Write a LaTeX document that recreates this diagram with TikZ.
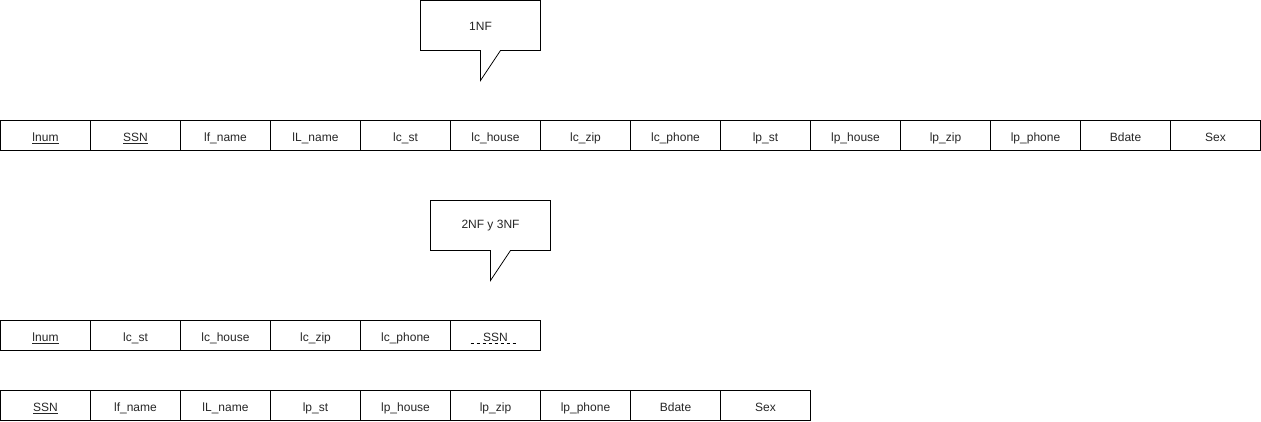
\documentclass[tikz,border=0pt]{standalone}
\usepackage{fontspec}
\setmainfont{Liberation Sans}
\begin{document}
\begin{tikzpicture}[x=1pt,y=-1pt,
  cell/.style={draw,line width=0.8pt,minimum width=90pt,minimum height=30pt,inner sep=0pt,outer sep=0pt,anchor=north west,text height=11.4pt,text depth=0pt,font=\fontsize{12pt}{14pt}\selectfont,text=black!85},
  callout/.style={draw,line width=0.8pt,fill=white},
  lbl/.style={font=\fontsize{12pt}{14pt}\selectfont,text=black!85,inner sep=0pt}]
\useasboundingbox (0,0) rectangle (1261,421);
% row 1
\foreach \t [count=\i from 0] in {\underline{lnum},\underline{SSN},lf\_name,lL\_name,lc\_st,lc\_house,lc\_zip,lc\_phone,lp\_st,lp\_house,lp\_zip,lp\_phone,Bdate,Sex}
  \node[cell] (a\i) at (0.5+90*\i,120.5) {\t};
% row 2
\foreach \t [count=\i from 0] in {\underline{lnum},lc\_st,lc\_house,lc\_zip,lc\_phone,SSN}
  \node[cell] (b\i) at (0.5+90*\i,320.5) {\t};
\draw[line width=0.6pt,dash pattern=on 3pt off 3pt] ([xshift=-25pt,yshift=-8pt]b5.center) coordinate (u1) -- ([xshift=22pt,yshift=-8pt]b5.center) coordinate (u2);
% row 3
\foreach \t [count=\i from 0] in {\underline{SSN},lf\_name,lL\_name,lp\_st,lp\_house,lp\_zip,lp\_phone,Bdate,Sex}
  \node[cell] (c\i) at (0.5+90*\i,390.5) {\t};
% callout 1
\draw[callout] (420.5,0.5) -- (540.5,0.5) -- (540.5,50.5) -- (500.5,50.5) -- (480.5,80.5) -- (480.5,50.5) -- (420.5,50.5) -- cycle;
\node[lbl] (k1) at (480.5,26) {1NF};
% callout 2
\draw[callout] (430.5,200.5) -- (550.5,200.5) -- (550.5,250.5) -- (510.5,250.5) -- (490.5,280.5) -- (490.5,250.5) -- (430.5,250.5) -- cycle;
\node[lbl] (k2) at (490.5,226) {2NF y 3NF};
\end{tikzpicture}
\end{document}
